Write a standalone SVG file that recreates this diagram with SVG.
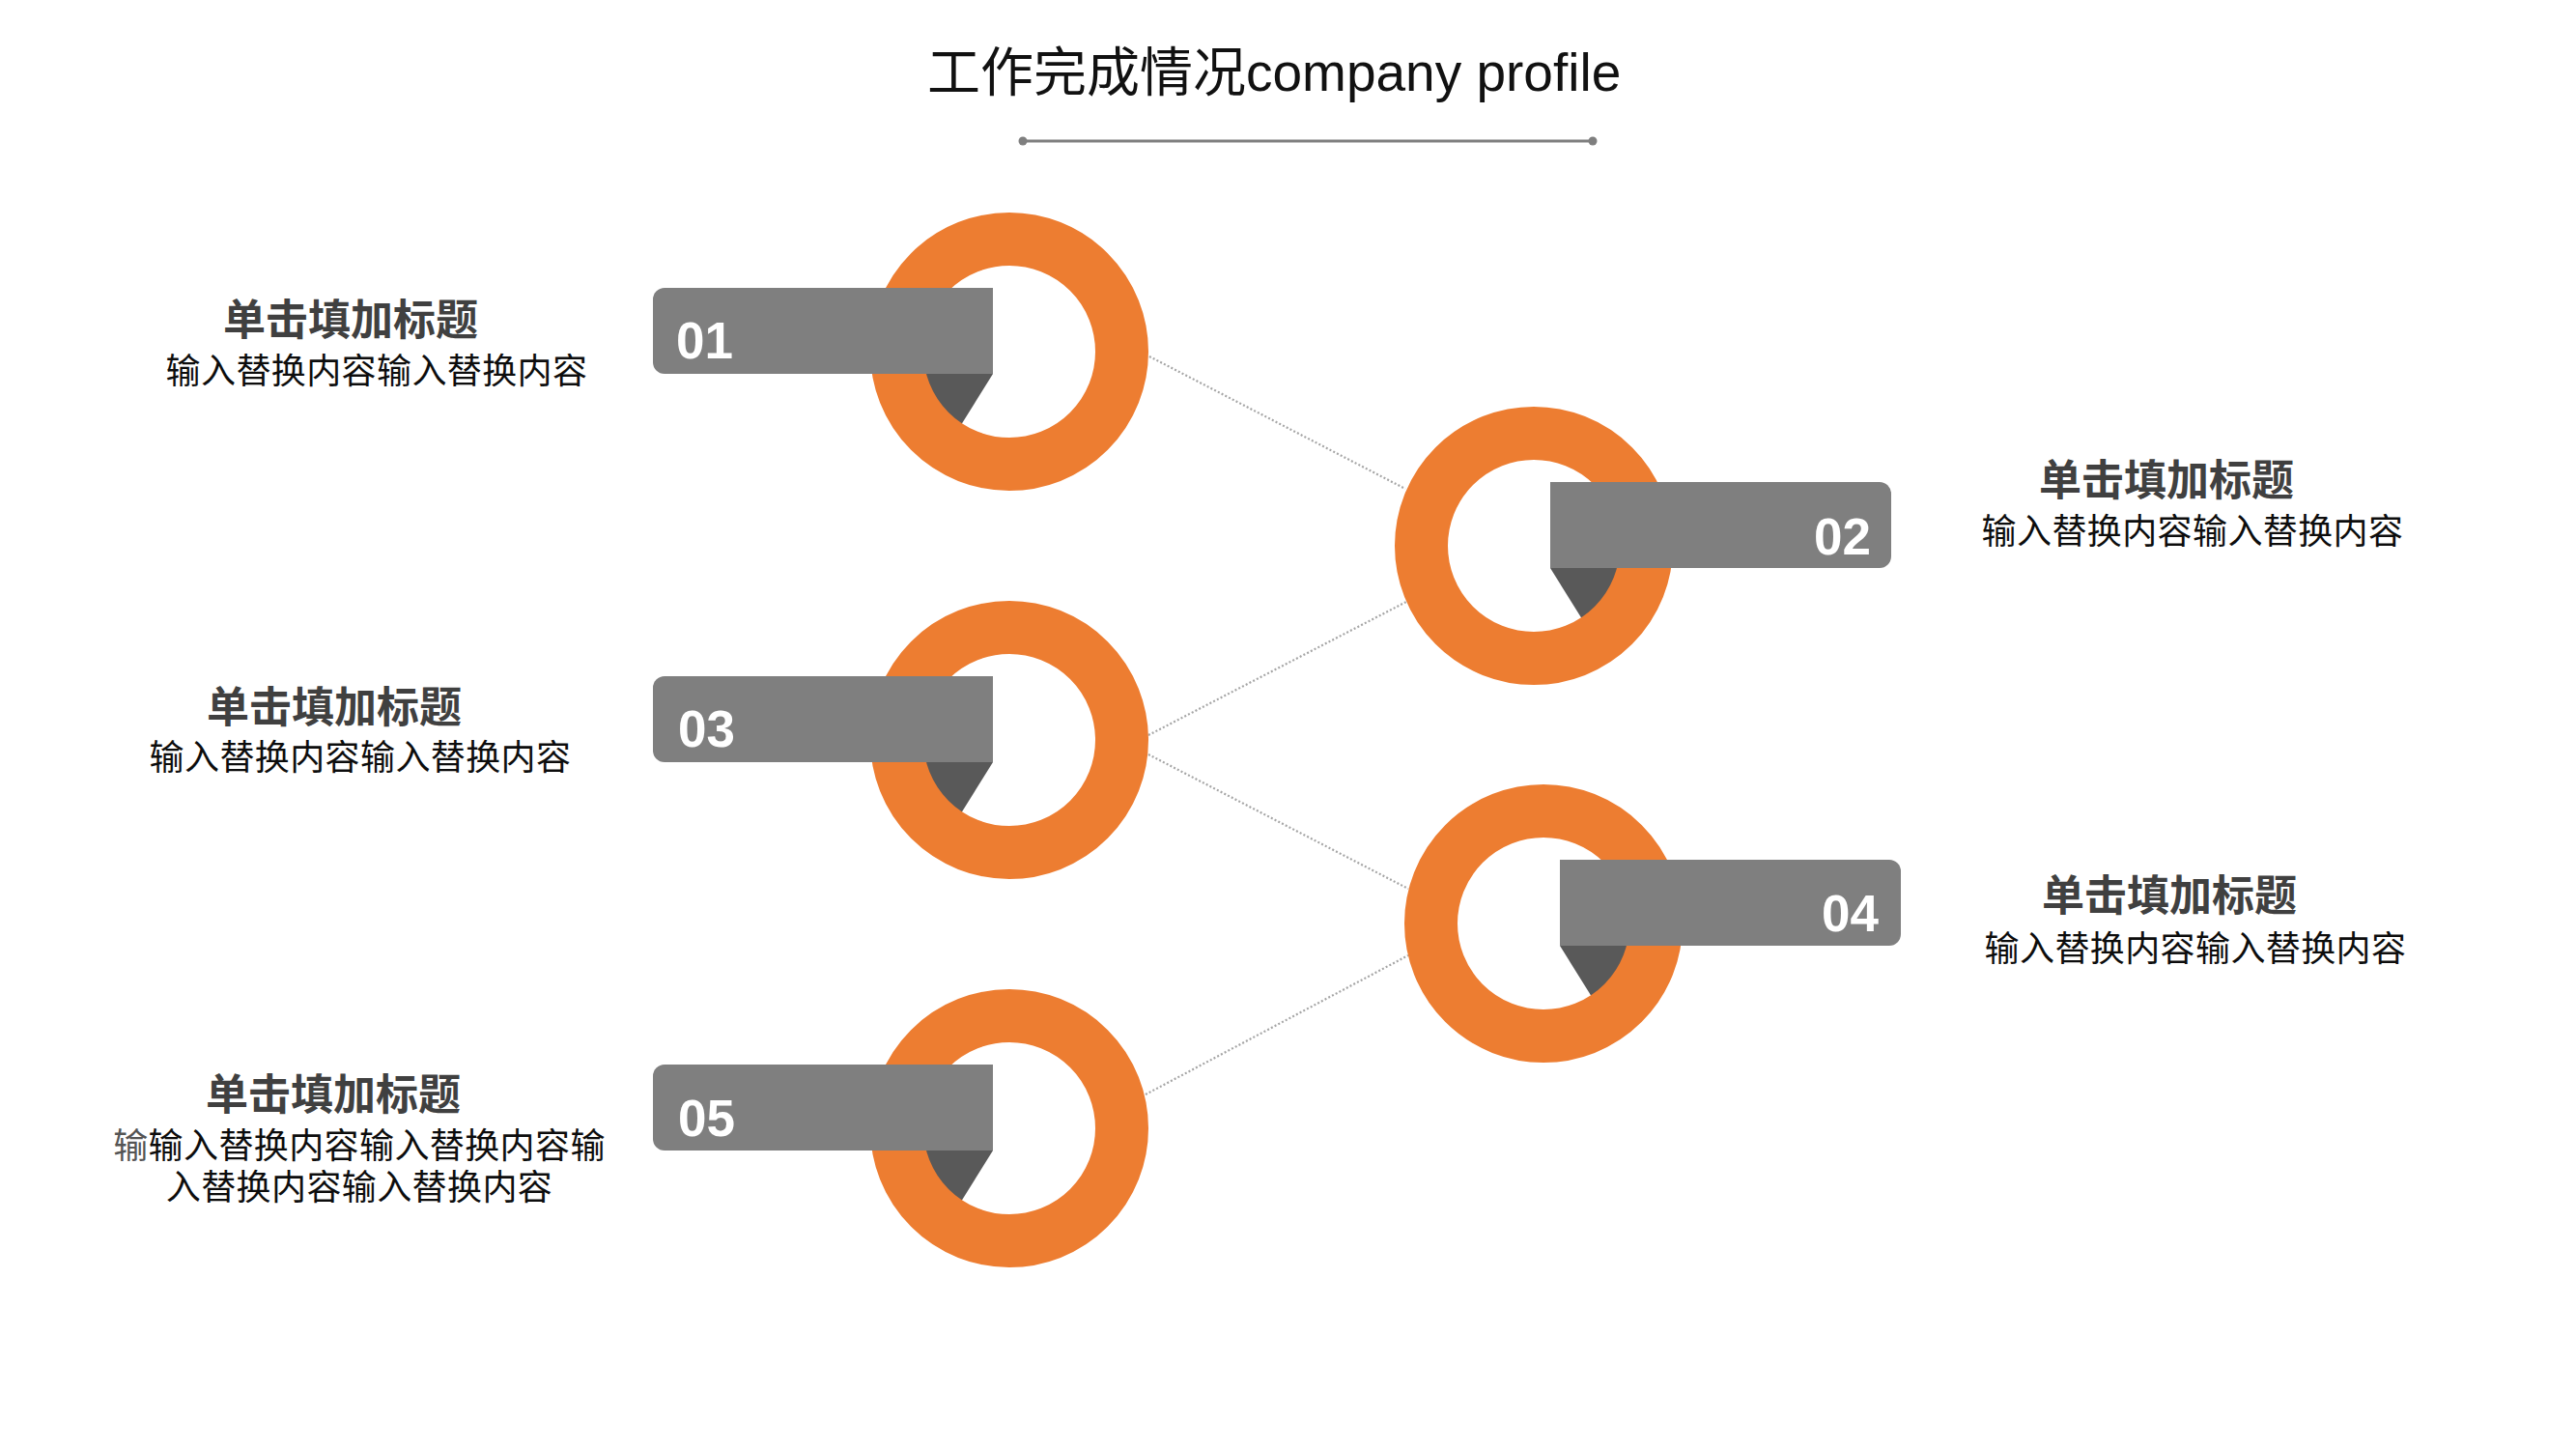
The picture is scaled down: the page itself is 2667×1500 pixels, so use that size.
<svg xmlns="http://www.w3.org/2000/svg" width="2667" height="1500" viewBox="0 0 2667 1500">
<style>
.ring{fill:none;stroke:#ED7D31;stroke-width:55}
.band{fill:#7F7F7F}
.fold{fill:#595959}
.num{font-family:"Liberation Sans",Arial,sans-serif;font-size:53px;font-weight:bold;fill:#FFFFFF}
.ttl{font-family:"Liberation Sans","Noto Sans CJK SC",sans-serif;font-size:44px;font-weight:bold;fill:#404040;text-anchor:middle}
.sub{font-family:"Liberation Sans","Noto Sans CJK SC",sans-serif;font-size:36px;letter-spacing:0.4px;fill:#0D0D0D;text-anchor:middle}
.conn{stroke:#A6A6A6;stroke-width:2.2;stroke-dasharray:2 2.2;fill:none}
</style>
<rect width="2667" height="1500" fill="#FFFFFF"/>
<g id="header">
<text x="960" y="94" font-family="'Liberation Sans','Noto Sans CJK SC',sans-serif" font-size="55" fill="#111111">工作完成情况company profile</text>
<line x1="1059" y1="146" x2="1649" y2="146" stroke="#7F7F7F" stroke-width="3"/>
<circle cx="1059" cy="146" r="4.5" fill="#7F7F7F"/>
<circle cx="1649" cy="146" r="4.5" fill="#7F7F7F"/>
</g>
<g id="connectors">
<line class="conn" x1="1190" y1="369" x2="1455" y2="506"/>
<line class="conn" x1="1189" y1="761" x2="1456" y2="623"/>
<line class="conn" x1="1189" y1="781" x2="1458" y2="920"/>
<line class="conn" x1="1186" y1="1133" x2="1458" y2="989"/>
</g>
<g id="node1">
<polygon class="fold" points="1028,387 935,387 985,456"/>
<circle class="ring" cx="1045" cy="364" r="116.5"/>
<path class="band" d="M1028,298 H688 A12,12 0 0 0 676,310 V375 A12,12 0 0 0 688,387 H1028 Z"/>
<text class="num" x="700" y="371">01</text>
<text class="ttl" x="363" y="347">单击填加标题</text>
<text class="sub" x="390" y="397">输入替换内容输入替换内容</text>
</g>
<g id="node2">
<polygon class="fold" points="1605,588 1698,588 1648,657"/>
<circle class="ring" cx="1588" cy="565" r="116.5"/>
<path class="band" d="M1605,499 H1946 A12,12 0 0 1 1958,511 V576 A12,12 0 0 1 1946,588 H1605 Z"/>
<text class="num" x="1937" y="574" text-anchor="end">02</text>
<text class="ttl" x="2243" y="513">单击填加标题</text>
<text class="sub" x="2270" y="563">输入替换内容输入替换内容</text>
</g>
<g id="node3">
<polygon class="fold" points="1028,789 935,789 985,858"/>
<circle class="ring" cx="1045" cy="766" r="116.5"/>
<path class="band" d="M1028,700 H688 A12,12 0 0 0 676,712 V777 A12,12 0 0 0 688,789 H1028 Z"/>
<text class="num" x="702" y="773">03</text>
<text class="ttl" x="346" y="748">单击填加标题</text>
<text class="sub" x="373" y="797">输入替换内容输入替换内容</text>
</g>
<g id="node4">
<polygon class="fold" points="1615,979 1708,979 1658,1048"/>
<circle class="ring" cx="1598" cy="956" r="116.5"/>
<path class="band" d="M1615,890 H1956 A12,12 0 0 1 1968,902 V967 A12,12 0 0 1 1956,979 H1615 Z"/>
<text class="num" x="1945" y="964" text-anchor="end">04</text>
<text class="ttl" x="2246" y="943">单击填加标题</text>
<text class="sub" x="2273" y="995">输入替换内容输入替换内容</text>
</g>
<g id="node5">
<polygon class="fold" points="1028,1191 935,1191 985,1260"/>
<circle class="ring" cx="1045" cy="1168" r="116.5"/>
<path class="band" d="M1028,1102 H688 A12,12 0 0 0 676,1114 V1179 A12,12 0 0 0 688,1191 H1028 Z"/>
<text class="num" x="702" y="1176">05</text>
<text class="ttl" x="345" y="1149">单击填加标题</text>
<text class="sub" x="372" y="1199"><tspan fill="#555555">输</tspan>输入替换内容输入替换内容输</text>
<text class="sub" x="372" y="1242">入替换内容输入替换内容</text>
</g>
</svg>
